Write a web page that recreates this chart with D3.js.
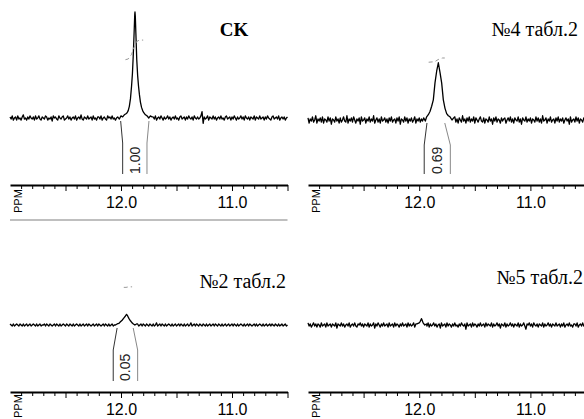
<!DOCTYPE html>
<html>
<head>
<meta charset="utf-8">
<script src="https://cdn.jsdelivr.net/npm/d3@7"></script>
<style>
  body { margin: 0; background: #fff; }
  svg { display: block; }
</style>
</head>
<body>
<svg id="chart" width="584" height="419"></svg>
<script>
// chemical shift axis and labels
const ppmDomain = [13.0, 10.5];
const tickLabels = ["12.0", "11.0"];
const titles = ["CK", "№4 табл.2", "№2 табл.2", "№5 табл.2"];

// baseline samples, 0.01 ppm apart starting at 13.00 ppm, in 0.01 intensity units
// (values inside a peak window are replaced by the peak points)
const gridStart = 13.0;
const gridStep = 0.01;
const noiseCK = [
  1, -1, 2, -2, 0, 1, -2, 2, -1, 0, -2, 1, 3, -1, 0, -2, 1, -1, 2, 0, -1, 1, -2, 2, -1,
  0, 2, -1, -2, 1, 0, -1, 2, 1, -2, 0, -1, 1, -3, 2, 0, 1, -1, -2, 2, 0, -1, 1, 2, -2,
  -1, 0, 2, -1, 1, -2, 0, 1, -1, 2, -2, 0, 1, -1, 3, -1, -2, 1, 0, -1, 2, -1, 0, 1, -2,
  2, -1, 0, -2, 1, 1, -1, 2, -2, 0, 1, -1, -2, 2, 0, 1, -1, 2, -1, 0, -2, 0, 0, 0, 0,
  0, 0, 0, 0, 0, 0, 0, 0, 0, 0, 0, 0, 0, 0, 0, 0, 0, 0, 0, 0, 0, 0, 0, 0, 0,
  0, 0, 0, 0, 1, -1, 2, -2, 0, 1, -1, 2, 0, -2, 1, -1, 0, 2, -1, 1, -2, 0, 1, -1, 2,
  -1, 0, -2, 1, 2, -1, 0, 1, -2, 1, -1, 2, 0, -1, 1, -2, 2, 0, -1, 1, -1, 0, 2, 6, -5,
  1, -1, 0, 2, -2, 1, 0, -1, 2, -1, 1, -2, 0, 1, -1, 2, -1, 0, -2, 1, 2, -1, 0, 1, -2,
  1, -1, 2, 0, -2, 1, -1, 0, 2, -1, 1, -2, 2, 0, -1, 1, -2, 1, 0, -1, 2, -2, 1, 0, -1,
  2, -1, 0, 1, -2, 1, -1, 2, 0, -1, -2, 1, 2, -1, 0, 1, -1, 2, -2, 0, 1, -1, 1, -2, 0,
  1,
];
const noiseN4 = [
  2, -3, 1, -1, 3, -2, 0, 4, -3, 1, -1, 2, -2, 3, -3, 1, 0, -2, 3, -1, 2, -4, 1, 0, -2,
  3, -1, 1, -3, 2, -2, 0, 3, -1, -2, 4, -3, 1, -1, 2, -2, 3, 0, -3, 1, -1, 2, -4, 3, -1,
  0, 2, -3, 1, -1, 3, -2, 1, -1, 4, -3, 0, 2, -2, 1, -3, 3, -1, 0, 2, -2, 1, -3, 2, -1,
  3, -2, 0, 1, -3, 2, -1, 3, -4, 1, 0, -2, 3, -1, 2, -3, 1, -1, 2, -2, 0, 3, -3, 1, -1,
  2, -2, 1, -1, 0, 0, 0, 0, 0, 0, 0, 0, 0, 0, 0, 0, 0, 0, 0, 0, 0, 0, 0, 0, 0,
  0, 0, 0, 0, 0, 0, 0, 3, -2, 1, -3, 2, 0, -2, 4, -1, 1, -3, 2, -1, 3, -2, 1, -1, 3,
  -3, 2, 0, -2, 1, 3, -1, -2, 2, -3, 1, 0, -2, 3, -1, 1, -4, 2, -1, 3, -2, 1, 0, -3, 2,
  -1, 1, 2, -3, 0, 2, -1, 3, -2, 1, -3, 2, 0, -1, 3, -2, 1, -4, 2, 0, -1, 3, -2, 1, -1,
  2, -3, 1, 0, -2, 3, -1, 2, -2, 1, -3, 4, -1, 0, 2, -3, 1, -1, 3, -2, 0, 1, -3, 2, -1,
  3, -2, 1, -1, 2, -3, 0, 2, -1, 1, -4, 3, -2, 0, 1, -2, 3, -1, 2, -3, 1, 0, -2, 2, -1,
  1,
];
const noiseN2 = [
  1, 0, -1, 1, -1, 0, 1, 0, -1, 1, 0, -1, 1, -1, 0, 1, -1, 0, 1, -1, 0, 1, 0, -1, 1,
  -1, 0, 1, -1, 0, 0, 1, -1, 1, 0, -1, 1, 0, -1, 0, 1, -1, 1, 0, -1, 1, -1, 0, 1, 0,
  -1, 1, 0, -1, 1, 0, -1, 1, -1, 0, 1, 0, -1, 1, -1, 0, 1, -1, 0, 1, -1, 1, 0, -1, 0,
  1, -1, 0, 1, -1, 1, 0, -1, 0, 1, -1, 1, 0, -1, 1, -1, 0, 1, -1, 0, 0, 0, 0, 0, 0,
  0, 0, 0, 0, 0, 0, 0, 0, 0, 0, 0, 0, 0, 0, 0, 1, -1, 0, 1, -1, 1, 0, -1, 1, 0,
  -1, 1, 0, -1, 1, -1, 0, 2, -1, 0, 1, -1, 1, 0, -1, 1, -1, 0, 1, 0, -1, 1, -1, 0, 1,
  -1, 0, 1, -1, 1, 0, -1, 1, -1, 0, 1, -1, 0, 2, -1, 0, 1, -1, 1, 0, -1, 1, 0, -1, 1,
  0, -1, 1, -1, 0, 1, -1, 0, 1, -1, 1, 0, -1, 1, 0, -1, 1, -1, 0, 1, -1, 0, 1, -1, 0,
  1, -1, 1, 0, -1, 1, -1, 0, 1, 0, -1, 1, -1, 0, 1, -1, 1, 0, -1, 0, 1, -1, 1, -1, 0,
  1, 0, -1, 1, -1, 0, 1, -1, 0, 1, -1, 1, 0, -1, 1, 0, -1, 1, -1, 0, 1, -1, 0, 1, -1,
  0,
];
const noiseN5 = [
  2, -1, 1, -2, 0, 2, -1, 1, -2, 1, 0, -2, 2, -1, 0, 1, -2, 2, -1, 0, 1, -2, 1, 0, -1,
  2, -3, 1, 0, -1, 2, -1, 1, -2, 0, 1, -1, 2, -2, 0, 1, -1, 2, -1, -2, 1, 0, 2, -1, 1,
  -2, 1, 0, -1, 2, -2, 1, -1, 0, 2, -3, 1, -1, 2, 0, -2, 1, -1, 2, -1, 0, 1, -2, 2, -1,
  0, 1, -2, 2, -1, 1, 0, -2, 1, -1, 2, -1, 0, 1, -2, 2, -1, 1, -1, 0, 2, -2, 1, 0, 0,
  0, 0, 0, 0, 0, 0, 0, -1, 2, -2, 1, -1, 0, 2, -1, 1, -2, 0, 1, -3, 2, -1, 0, 1, -2,
  2, -1, 1, 0, -2, 1, -1, 2, -1, 0, -2, 1, -1, 2, 0, -1, 1, -4, 2, -1, 0, 1, -2, 2, -1,
  1, 0, -2, 1, -1, 2, -1, 0, 1, -2, 2, -1, 1, 0, -1, 2, -2, 1, -1, 0, 2, -1, 1, -3, 1,
  0, -1, 2, -2, 1, -1, 0, 2, -1, 1, -2, 1, 0, -1, 2, -2, 1, -1, 0, 2, -1, -4, 1, 0, 2,
  -1, 1, -2, 2, 0, -1, 1, -2, 1, 0, -1, 2, -2, 1, -1, 0, 2, -1, 1, -2, 1, 0, -1, 2, -1,
  0, 1, -2, 1, -1, 2, -2, 0, 1, -1, 2, -1, 0, -2, 1, 1, -1, 2, -2, 0, 1, -1, 2, -1, 0,
  1,
];

// peak regions: [ppm, intensity]
const peakCK = [
  [12.03, 0.01], [12.015, -0.01], [12.0, 0.02], [11.985, 0.01], [11.97, 0.03],
  [11.955, 0.04], [11.945, 0.05], [11.935, 0.07], [11.925, 0.11], [11.915, 0.18],
  [11.905, 0.3], [11.897, 0.42], [11.89, 0.58], [11.882, 0.8], [11.876, 0.98],
  [11.874, 1.0], [11.871, 0.96], [11.866, 0.8], [11.858, 0.55], [11.85, 0.4],
  [11.842, 0.3], [11.834, 0.22], [11.825, 0.15], [11.815, 0.1], [11.805, 0.07],
  [11.795, 0.05], [11.78, 0.03], [11.765, 0.02], [11.75, 0.0], [11.735, 0.02],
  [11.72, 0.01],
];
const peakN4 = [
  [11.96, 0.02], [11.945, -0.01], [11.933, 0.03], [11.918, 0.05], [11.903, 0.08],
  [11.888, 0.13], [11.873, 0.19], [11.858, 0.35], [11.843, 0.46], [11.828, 0.54],
  [11.813, 0.45], [11.798, 0.35], [11.783, 0.19], [11.768, 0.11], [11.753, 0.06],
  [11.738, 0.04], [11.723, 0.03], [11.705, 0.0], [11.69, 0.02],
];
const peakN2 = [
  [12.05, 0.0], [12.035, 0.01], [12.02, 0.015], [12.005, 0.03], [11.99, 0.045],
  [11.975, 0.065], [11.96, 0.085], [11.95, 0.1], [11.94, 0.085], [11.928, 0.06],
  [11.915, 0.04], [11.9, 0.02], [11.888, 0.01], [11.875, 0.0], [11.86, 0.01],
];
const peakN5 = [
  [12.02, 0.01], [12.0, 0.02], [11.99, 0.035], [11.98, 0.06], [11.975, 0.05],
  [11.965, 0.02], [11.95, 0.0], [11.935, 0.01],
];

// integrals
const integralLabels = ["1.00", "0.69", "0.05", null];
const integralRanges = [[11.985, 11.766], [11.955, 11.72], [12.07, 11.85], null];
const integralJoins = [[12.003, 11.748], [11.93, 11.77], [12.035, 11.89], null];
const integralCurves = [
  [[11.96, 0.55], [11.935, 0.557], [11.905, 0.6], [11.885, 0.66], [11.86, 0.72], [11.835, 0.735], [11.8, 0.735]],
  [[11.915, 0.545], [11.86, 0.55], [11.83, 0.57], [11.79, 0.585], [11.77, 0.585]],
  [[11.975, 0.355], [11.955, 0.355], [11.93, 0.36], [11.9, 0.36]],
  null,
];

const noises = [noiseCK, noiseN4, noiseN2, noiseN5];
const peaks = [peakCK, peakN4, peakN2, peakN5];

// panel geometry
const panels = [
  { x0: 10, x1: 287.5, axisY: 185, baseY: 118, titleX: 234, titleY: 36, anchor: "middle", bold: true },
  { x0: 308, x1: 586, axisY: 185, baseY: 120, titleX: 578, titleY: 36, anchor: "end" },
  { x0: 10, x1: 287.5, axisY: 392, baseY: 325, titleX: 286, titleY: 288, anchor: "end" },
  { x0: 308, x1: 586, axisY: 392, baseY: 325, titleX: 583, titleY: 284, anchor: "end" },
];
const fullScale = 106; // px for intensity 1.0

const svg = d3.select("#chart");

function buildTrace(noise, peak) {
  const lo = d3.min(peak, (d) => d[0]);
  const hi = d3.max(peak, (d) => d[0]);
  const base = noise
    .map((v, i) => [gridStart - i * gridStep, v / 100])
    .filter((d) => d[0] < lo || d[0] > hi);
  return base.concat(peak).sort((a, b) => b[0] - a[0]);
}

panels.forEach((p, i) => {
  const x = d3.scaleLinear().domain(ppmDomain).range([p.x0, p.x1]);
  const y = d3.scaleLinear().domain([0, 1]).range([p.baseY, p.baseY - fullScale]);
  const g = svg.append("g");

  // title
  g.append("text")
    .attr("x", p.titleX)
    .attr("y", p.titleY)
    .attr("text-anchor", p.anchor)
    .attr("font-family", "'Liberation Serif', 'Times New Roman', serif")
    .attr("font-size", p.bold ? 19 : 20)
    .attr("font-weight", p.bold ? "bold" : "normal")
    .text(titles[i]);

  // spectrum
  const line = d3.line().x((d) => x(d[0])).y((d) => y(d[1]));
  g.append("path")
    .datum(buildTrace(noises[i], peaks[i]))
    .attr("fill", "none")
    .attr("stroke", "#000")
    .attr("stroke-width", 1.3)
    .attr("stroke-linejoin", "round")
    .attr("d", line);

  // integral curve
  if (integralCurves[i]) {
    g.append("path")
      .datum(integralCurves[i])
      .attr("fill", "none")
      .attr("stroke", "#999")
      .attr("stroke-width", 1)
      .attr("stroke-dasharray", "4,3")
      .attr("d", line);
  }

  // integral bracket and value
  if (integralRanges[i]) {
    const bottom = p.axisY - 11;
    const kink = p.baseY + 25;
    [0, 1].forEach((k) => {
      g.append("path")
        .attr("fill", "none")
        .attr("stroke", k === 0 ? "#333" : "#888")
        .attr("stroke-width", 1)
        .attr("d", d3.line()([
          [x(integralJoins[i][k]), p.baseY + 3],
          [x(integralRanges[i][k]), kink],
          [x(integralRanges[i][k]), bottom],
        ]));
    });
    const cx = x(d3.mean(integralRanges[i]));
    g.append("text")
      .attr("transform", `translate(${cx},${bottom}) rotate(-90)`)
      .attr("dy", "0.35em")
      .attr("font-family", "'Liberation Sans', Arial, sans-serif")
      .attr("font-size", 14)
      .attr("fill", "#222")
      .text(integralLabels[i]);
  }

  // ppm axis
  const ticks = x.ticks(25).filter((t) => t < 12.95);
  const axis = d3.axisBottom(x)
    .tickValues(ticks)
    .tickSize(4)
    .tickSizeOuter(0)
    .tickFormat((t) => {
      const s = d3.format(".1f")(t);
      return tickLabels.includes(s) ? s : "";
    });

  const ax = g.append("g")
    .attr("transform", `translate(0,${p.axisY})`)
    .call(axis)
    .attr("font-family", "'Liberation Sans', Arial, sans-serif")
    .attr("font-size", 16);

  ax.select(".domain").attr("stroke-width", 2);
  ax.selectAll(".tick line")
    .attr("stroke-width", 1)
    .attr("y2", (t) => (Math.abs(t * 2 - Math.round(t * 2)) < 1e-6 ? 6 : 4));
  ax.selectAll(".tick text").attr("y", 23).attr("dy", null).attr("fill", "#000");

  g.append("text")
    .attr("transform", `translate(${p.x0 + 11.7},${Math.min(p.axisY + 28, 418)}) rotate(-90)`)
    .attr("font-family", "'Liberation Sans', Arial, sans-serif")
    .attr("font-size", 11)
    .text("PPM");

  // separator under the left column's upper axis
  if (i === 0) {
    g.append("line")
      .attr("x1", p.x0).attr("x2", p.x1)
      .attr("y1", 220).attr("y2", 220)
      .attr("stroke", "#aaa")
      .attr("stroke-width", 1.5);
  }
});
</script>
</body>
</html>
